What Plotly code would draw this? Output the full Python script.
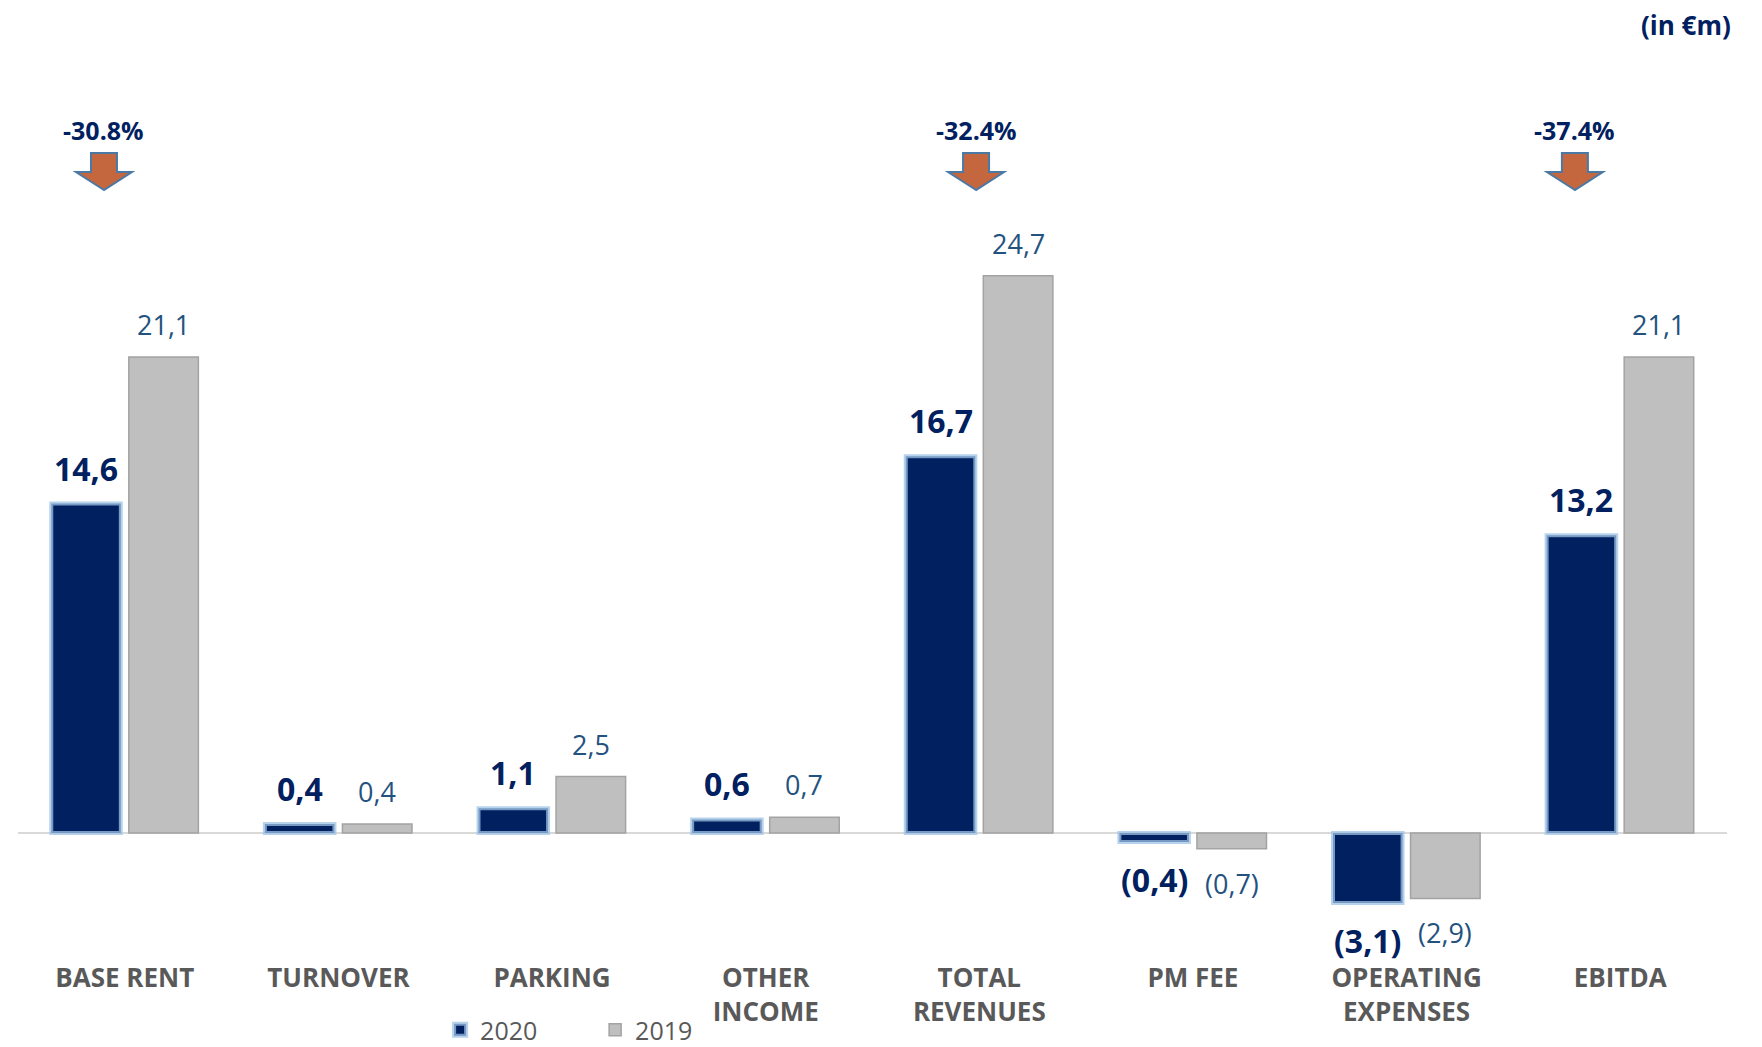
import plotly.graph_objects as go

# Income statement items (in €m), 2020 vs 2019
categories = ["BASE RENT", "TURNOVER", "PARKING", "OTHER<br>INCOME", "TOTAL<br>REVENUES",
              "PM FEE", "OPERATING<br>EXPENSES", "EBITDA"]
values_2020 = [14.6, 0.4, 1.1, 0.6, 16.7, -0.4, -3.1, 13.2]
values_2019 = [21.1, 0.4, 2.5, 0.7, 24.7, -0.7, -2.9, 21.1]

# Year-on-year change callouts
change_labels = ["-30.8%", "-32.4%", "-37.4%"]
change_x = [0.0503, 0.5606, 0.911]   # paper x of each callout

NAVY = "#002060"
GRAY_BAR = "#BFBFBF"
LABEL_BLUE = "#24527F"
AXIS_GRAY = "#595959"
FONT = "Open Sans"

BARGAP = 0.274
BARGROUPGAP = 0.103
slot = (1 - BARGAP) / 2          # width of one bar slot in category units
offset = slot / 2                # centre of each bar relative to the category


def fmt(v):
    s = f"{abs(v):.1f}".replace(".", ",")
    return f"({s})" if v < 0 else s


fig = go.Figure()
fig.add_trace(go.Bar(
    name="2020", x=categories, y=values_2020,
    marker=dict(color=NAVY, line=dict(color="rgba(157,195,230,0.75)", width=4)),
    hoverinfo="skip",
))
fig.add_trace(go.Bar(
    name="2019", x=categories, y=values_2019,
    marker=dict(color=GRAY_BAR, line=dict(color="#A3A3A3", width=1.5)),
    hoverinfo="skip",
))

annotations = []
for i, (a, b) in enumerate(zip(values_2020, values_2019)):
    for v, dx, size, color, bold in ((a, -offset, 32, NAVY, True),
                                     (b, offset, 27, LABEL_BLUE, False)):
        txt = f"<b>{fmt(v)}</b>" if bold else fmt(v)
        pos = v >= 0
        annotations.append(dict(
            x=i + dx, y=v, xref="x", yref="y", text=txt, showarrow=False,
            yanchor="bottom" if pos else "top",
            yshift=12 if pos else -14,
            font=dict(family=FONT, size=size, color=color),
        ))

for lbl, px in zip(change_labels, change_x):
    annotations.append(dict(
        x=px, y=1.0252, xref="paper", yref="paper", text=f"<b>{lbl}</b>",
        showarrow=False, xanchor="center", yanchor="middle",
        font=dict(family=FONT, size=25, color=NAVY),
    ))

annotations.append(dict(
    x=1.0035, y=1.157, xref="paper", yref="paper", text="<b>(in €m)</b>",
    showarrow=False, xanchor="right", yanchor="middle",
    font=dict(family=FONT, size=26, color=NAVY),
))

# Block arrows pointing down under each change callout (pixel-sized, tip at anchor)
arrow_path = "M 0 0 L -28 18 L -13 18 L -13 37 L 13 37 L 13 18 L 28 18 Z"
shapes = []
for px in change_x:
    shapes.append(dict(
        type="path", xref="paper", yref="paper",
        xsizemode="pixel", ysizemode="pixel",
        xanchor=px, yanchor=0.9497,
        path=arrow_path,
        fillcolor="#C4673F", line=dict(color="#4A79A5", width=2),
    ))

fig.update_layout(
    width=1762, height=1047,
    margin=dict(l=18, r=35, t=150, b=102, autoexpand=False),
    paper_bgcolor="white", plot_bgcolor="white",
    barmode="group", bargap=BARGAP, bargroupgap=BARGROUPGAP,
    font=dict(family=FONT, color=AXIS_GRAY),
    annotations=annotations,
    shapes=shapes,
    showlegend=True,
    legend=dict(
        orientation="h", x=0.247, y=-0.107, xanchor="left", yanchor="middle",
        font=dict(family=FONT, size=25, color=AXIS_GRAY),
        entrywidth=110, traceorder="normal",
        bgcolor="rgba(0,0,0,0)",
    ),
)
fig.update_xaxes(
    type="category", showgrid=False, showline=False, ticks="",
    tickfont=dict(family=FONT, size=26, color=AXIS_GRAY, weight="bold"),
    tickangle=0, automargin=False, ticklabelstandoff=15,
)
fig.update_yaxes(
    range=[-4.965, 30.275], showgrid=False, showticklabels=False, ticks="",
    zeroline=True, zerolinecolor="#D9D9D9", zerolinewidth=2, automargin=False,
)

fig.write_html("out.html")
